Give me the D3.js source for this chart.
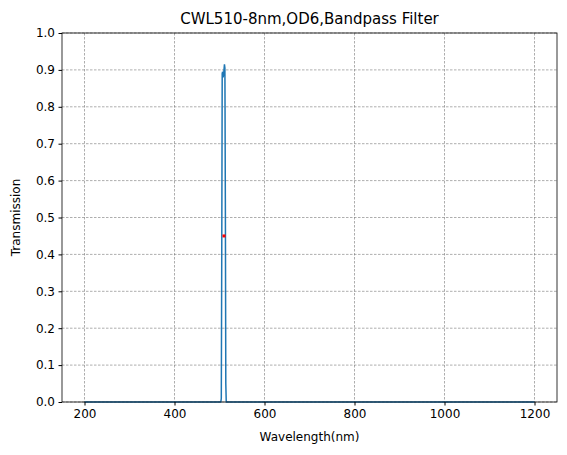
<!DOCTYPE html><html><head><script src="https://cdn.jsdelivr.net/npm/d3@7"></script>
<style>body{margin:0;background:#fff}text{font-family:"DejaVu Sans",sans-serif}</style></head><body><script>
const wavelengths=[200,503,504,505,506,507,508,509,510,511,512,513,514,515,1200];
const transmission=[0,0,0.01,0.4,0.89,0.895,0.88,0.885,0.9,0.915,0.905,0.55,0.05,0,0];
const marker=[510,0.45];
const xTicks=[200,400,600,800,1000,1200];
const yTicks=d3.range(0,1.01,0.1);
const W=567,H=455,m={l:62,r:10,t:33,b:53};
const svg=d3.select("body").append("svg").attr("width",W).attr("height",H);
const x=d3.scaleLinear().domain([150,1250]).range([m.l,W-m.r]);
const y=d3.scaleLinear().domain([0,1]).range([H-m.b,m.t]);
const g=svg.append("g");
g.selectAll(".gx").data(xTicks).join("line").attr("x1",d=>x(d)).attr("x2",d=>x(d)).attr("y1",m.t).attr("y2",H-m.b).attr("stroke","#777").attr("stroke-width",0.6).attr("stroke-dasharray","2.5,1.5");
g.selectAll(".gy").data(yTicks).join("line").attr("y1",d=>y(d)).attr("y2",d=>y(d)).attr("x1",m.l).attr("x2",W-m.r).attr("stroke","#777").attr("stroke-width",0.6).attr("stroke-dasharray","2.5,1.5");
svg.append("path").datum(wavelengths.map((w,i)=>[w,transmission[i]])).attr("fill","none").attr("stroke","#1f77b4").attr("stroke-width",1.5)
 .attr("d",d3.line().x(d=>x(d[0])).y(d=>y(d[1])));
svg.append("rect").attr("x",x(marker[0])-1.5).attr("y",y(marker[1])-1.5).attr("width",3).attr("height",3).attr("fill","red");
svg.append("g").attr("transform",`translate(0,${H-m.b})`).call(d3.axisBottom(x).tickValues(xTicks).tickFormat(d3.format("d")).tickSize(3.5).tickPadding(3.5)).attr("font-size",12).attr("font-family","DejaVu Sans");
svg.append("g").attr("transform",`translate(${m.l},0)`).call(d3.axisLeft(y).tickValues(yTicks).tickFormat(d3.format(".1f")).tickSize(3.5).tickPadding(3.5)).attr("font-size",12).attr("font-family","DejaVu Sans");
svg.selectAll(".domain").remove();
svg.append("rect").attr("x",m.l).attr("y",m.t).attr("width",W-m.r-m.l).attr("height",H-m.b-m.t).attr("fill","none").attr("stroke","#000").attr("stroke-width",0.8);
svg.append("text").attr("x",(m.l+W-m.r)/2).attr("y",441).attr("text-anchor","middle").attr("font-size",12).text("Wavelength(nm)");
svg.append("text").attr("transform",`translate(20,${(m.t+H-m.b)/2}) rotate(-90)`).attr("text-anchor","middle").attr("font-size",12).text("Transmission");
svg.append("text").attr("x",(m.l+W-m.r)/2).attr("y",24).attr("text-anchor","middle").attr("font-size",15).text("CWL510-8nm,OD6,Bandpass Filter");
</script></body></html>
